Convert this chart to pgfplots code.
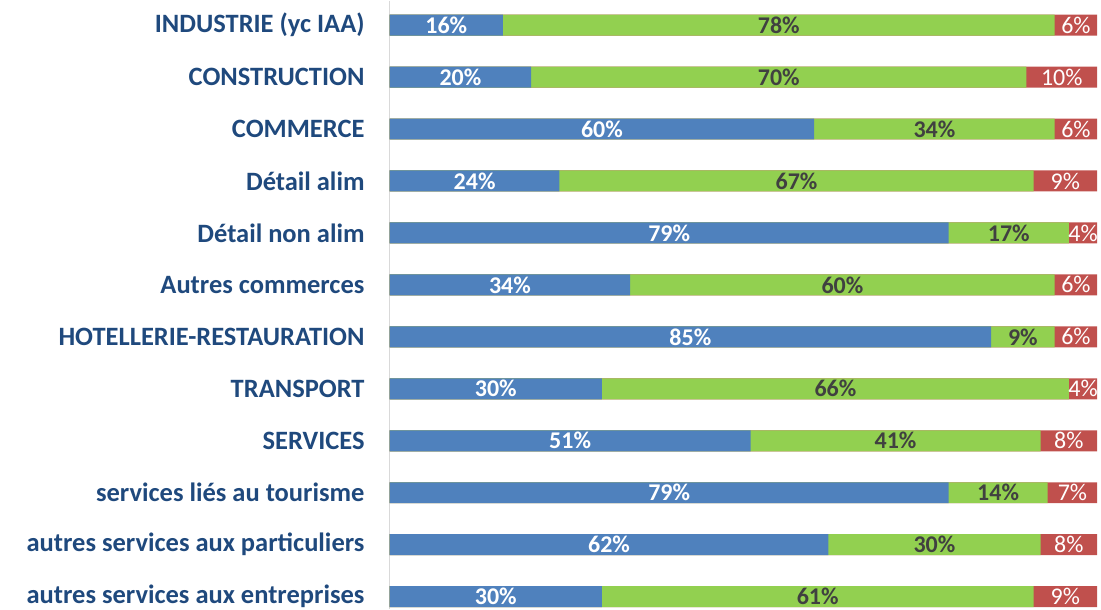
\documentclass[border=0pt]{standalone}
\usepackage{fontspec}
\setmainfont{Carlito}
\usepackage{pgfplots}
\usepackage{pgfplotstable}
\pgfplotsset{compat=1.18}
\definecolor{cblue}{HTML}{4F81BD}
\definecolor{cgreen}{HTML}{92D050}
\definecolor{cred}{HTML}{C0504D}
\definecolor{labblue}{HTML}{1F497D}
\definecolor{dgray}{HTML}{404040}
\definecolor{axgray}{HTML}{D9D9D9}
\pgfplotstableread{
i b g r
0 16 78 6
1 20 70 10
2 60 34 6
3 24 67 9
4 79 17 4
5 34 60 6
6 85 9 6
7 30 66 4
8 51 41 8
9 79 14 7
10 62 30 8
11 30 61 9
}\data
\begin{document}
\begin{tikzpicture}
\path (0,0) rectangle (1101pt,609pt);
\begin{axis}[
  at={(390pt,0pt)}, anchor=south west,
  scale only axis, width=708pt, height=609pt,
  xmin=0, xmax=100,
  ymin=-0.471, ymax=11.240, y dir=reverse,
  axis x line=none,
  axis y line*=left,
  y axis line style={axgray, line width=1.2pt},
  ytick={0,...,11},
  yticklabels={INDUSTRIE (yc IAA),CONSTRUCTION,COMMERCE,Détail alim,Détail non alim,Autres commerces,HOTELLERIE-RESTAURATION,TRANSPORT,SERVICES,services liés au tourisme,autres services aux particuliers,autres services aux entreprises},
  yticklabel style={font=\fontsize{26.5}{30}\selectfont\bfseries, text=labblue, inner sep=0pt, anchor=east},
  yticklabel shift=25pt,
  major tick length=0pt,
  xbar, bar shift=0pt, bar width=21pt,
  clip=false,
]
\addplot[xbar, fill=cred, draw=none] table[x expr=\thisrow{b}+\thisrow{g}+\thisrow{r}, y=i] {\data};
\addplot[xbar, fill=cgreen, draw=none] table[x expr=\thisrow{b}+\thisrow{g}, y=i] {\data};
\addplot[xbar, fill=cblue, draw=none] table[x=b, y=i] {\data};
\addplot[only marks, mark=none, point meta=explicit symbolic,
  nodes near coords={\pgfplotspointmeta\%},
  every node near coord/.style={anchor=center, text=white, font=\fontsize{24}{26}\selectfont\bfseries}]
  table[x expr=\thisrow{b}/2, y=i, meta=b] {\data};
\addplot[only marks, mark=none, point meta=explicit symbolic,
  nodes near coords={\pgfplotspointmeta\%},
  every node near coord/.style={anchor=center, text=dgray, font=\fontsize{24}{26}\selectfont\bfseries}]
  table[x expr=\thisrow{b}+\thisrow{g}/2, y=i, meta=g] {\data};
\addplot[only marks, mark=none, point meta=explicit symbolic,
  nodes near coords={\pgfplotspointmeta\%},
  every node near coord/.style={anchor=center, text=white, font=\fontsize{24}{26}\selectfont}]
  table[x expr=\thisrow{b}+\thisrow{g}+\thisrow{r}/2, y=i, meta=r] {\data};
\end{axis}
\end{tikzpicture}
\end{document}
